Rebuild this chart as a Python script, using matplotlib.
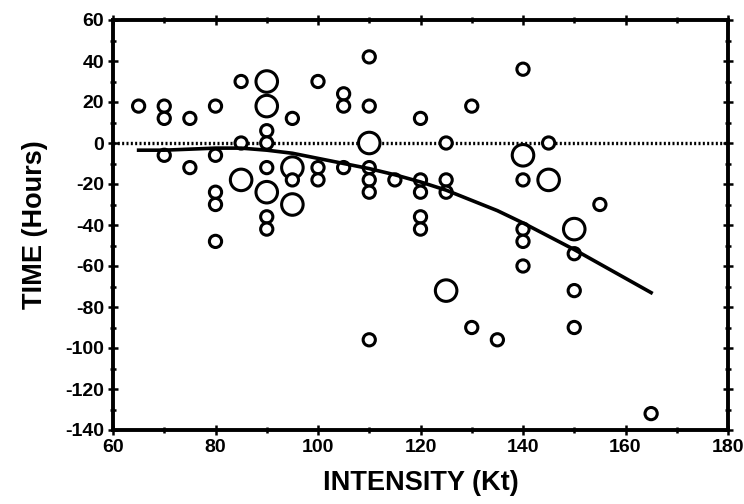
import numpy as np
import matplotlib
matplotlib.use("Agg")
import matplotlib.pyplot as plt
from matplotlib.ticker import MultipleLocator

"""Data read off the scanned figure"""
intensity = [65,
             70, 70, 70,
             75, 75,
             80, 80, 80, 80, 80,
             85, 85, 85,
             90, 90, 90, 90, 90, 90, 90, 90,
             95, 95, 95, 95,
             100, 100, 100,
             105, 105, 105,
             110, 110, 110, 110, 110, 110, 110,
             115,
             120, 120, 120, 120, 120,
             125, 125, 125, 125,
             130, 130,
             135,
             140, 140, 140, 140, 140, 140,
             145, 145,
             150, 150, 150, 150,
             155,
             165]
time_hr = [18,
           18, 12, -6,
           12, -12,
           18, -6, -24, -30, -48,
           30, 0, -18,
           30, 18, 6, 0, -12, -24, -36, -42,
           12, -12, -18, -30,
           30, -12, -18,
           24, 18, -12,
           42, 18, 0, -12, -18, -24, -96,
           -18,
           12, -18, -24, -36, -42,
           0, -18, -24, -72,
           18, -90,
           -96,
           36, -6, -18, -42, -48, -60,
           0, -18,
           -42, -54, -72, -90,
           -30,
           -132]
cases = [1,
         1, 1, 1,
         1, 1,
         1, 1, 1, 1, 1,
         1, 1, 2,
         2, 2, 1, 1, 1, 2, 1, 1,
         1, 2, 1, 2,
         1, 1, 1,
         1, 1, 1,
         1, 1, 2, 1, 1, 1, 1,
         1,
         1, 1, 1, 1, 1,
         1, 1, 1, 2,
         1, 1,
         1,
         1, 2, 1, 1, 1, 1,
         1, 2,
         2, 1, 1, 1,
         1,
         1]

# fitted curve
curve_x = [65, 70, 75, 80, 85, 90, 95, 100, 105, 110, 115,
           120, 125, 130, 135, 140, 145, 150, 155, 160, 165]
curve_y = [-3.5, -3.5, -3, -2.5, -2.5, -3.5, -5, -7.5, -10, -12.5, -15.5,
           -19, -23, -28, -33, -39, -45.5, -52, -59, -66, -73]

"""Plot"""
plt.rcParams["font.family"] = ["Liberation Sans", "DejaVu Sans"]
plt.rcParams["font.weight"] = "bold"
plt.rcParams["axes.unicode_minus"] = False

fig = plt.figure(figsize=(7.44, 5.04), dpi=100)
ax = fig.add_axes([113/744, 1 - 430/504, 615/744, 410/504])

sizes = {1: 8.8, 2: 15.5}
ms = np.array([sizes[c] for c in cases])
ax.scatter(intensity, time_hr, s=ms**2, facecolors="white",
           edgecolors="black", linewidths=2.2, zorder=3)

ax.axhline(0, color="black", lw=2.4, ls=(0, (0.6, 0.7)), zorder=2)
ax.plot(curve_x, curve_y, color="black", lw=2.6, zorder=4)

ax.set_xlim(60, 180)
ax.set_ylim(-140, 60)
ax.xaxis.set_major_locator(MultipleLocator(20))
ax.xaxis.set_minor_locator(MultipleLocator(10))
ax.yaxis.set_major_locator(MultipleLocator(20))
ax.yaxis.set_minor_locator(MultipleLocator(10))
ax.tick_params(which="both", direction="inout", top=True, right=True,
               width=1.8, labelsize=14, pad=3)
ax.tick_params(which="major", length=7)
ax.tick_params(which="minor", length=4)
for lab in ax.get_xticklabels() + ax.get_yticklabels():
    lab.set_fontweight("bold")
for s in ax.spines.values():
    s.set_linewidth(2.8)

ax.set_xlabel("INTENSITY (Kt)", fontsize=19.5, fontweight="bold", labelpad=10)
ax.set_ylabel("TIME (Hours)", fontsize=19.5, fontweight="bold", labelpad=12)

plt.savefig("out.png", dpi=100)
